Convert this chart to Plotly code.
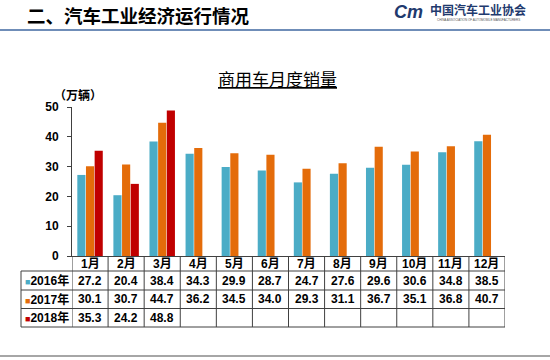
import plotly.graph_objects as go

# ---- data ----
months = ["1月", "2月", "3月", "4月", "5月", "6月", "7月", "8月", "9月", "10月", "11月", "12月"]
series_names = ["2016年", "2017年", "2018年"]
sales_2016 = [27.2, 20.4, 38.4, 34.3, 29.9, 28.7, 24.7, 27.6, 29.6, 30.6, 34.8, 38.5]
sales_2017 = [30.1, 30.7, 44.7, 36.2, 34.5, 34.0, 29.3, 31.1, 36.7, 35.1, 36.8, 40.7]
sales_2018 = [35.3, 24.2, 48.8, None, None, None, None, None, None, None, None, None]
y_ticks = [0, 10, 20, 30, 40, 50]

colors = ["#4BACC6", "#E46C0A", "#C00000"]
all_series = [sales_2016, sales_2017, sales_2018]

W, H = 550, 360
L, R, T, B = 72, 45, 107, 104
plot_h = H - T - B
plot_w = W - L - R

def py(pix):  # pixel y -> paper y
    return (H - B - pix) / plot_h

def px(pix):  # pixel x -> paper x
    return (pix - L) / plot_w

FONT = "Arial, Liberation Sans, Noto Sans CJK SC, sans-serif"
CJK = "Noto Sans CJK SC, sans-serif"

fig = go.Figure()
for name, vals, c in zip(series_names, all_series, colors):
    fig.add_trace(go.Bar(x=months, y=vals, name=name, marker=dict(color=c, line=dict(width=0)),
                         hoverinfo="skip"))

shapes = []
annotations = []
line_col = "#404040"

def ann(x, y, text, xref="paper", xanchor="center", **font):
    f = dict(family=FONT, size=12, color="#000")
    f.update(font)
    annotations.append(dict(x=x, y=y, xref=xref, yref="paper", text=text, showarrow=False,
                            xanchor=xanchor, yanchor="middle", font=f))

# table geometry (pixels)
row_edges = [256, 271, 290, 308.5, 327]
left_x = 21

for k in range(len(months) + 1):
    shapes.append(dict(type="line", xref="x", yref="paper", x0=k - 0.5, x1=k - 0.5,
                       y0=py(256), y1=py(327), line=dict(color=line_col, width=1)))
shapes.append(dict(type="line", xref="paper", yref="paper", x0=px(left_x), x1=px(left_x),
                   y0=py(271), y1=py(327), line=dict(color=line_col, width=1)))
for ry in row_edges[1:]:
    shapes.append(dict(type="line", xref="paper", yref="paper", x0=px(left_x), x1=1,
                       y0=py(ry), y1=py(ry), line=dict(color=line_col, width=1)))

for m in months:
    ann(m, py(263.5), m, xref="x", weight="bold")
for i, (name, vals, c) in enumerate(zip(series_names, all_series, colors)):
    ymid = (row_edges[i + 1] + row_edges[i + 2]) / 2
    ann(px(46.5), py(ymid), f"<span style='color:{c};font-size:9px'>■</span>{name}", weight="bold")
    for m, v in zip(months, vals):
        if v is not None:
            ann(m, py(ymid), f"{v:.1f}", xref="x", weight="bold")

# header title and logo
ann(px(25), py(15), "二、汽车工业经济运行情况", xanchor="left", family=CJK, size=18.5, weight="bold")
ann(px(408), py(12), "<i>Cm</i>", family=FONT, size=18, color="#1F3A6E", weight="bold")
ann(px(478), py(10), "中国汽车工业协会", family=CJK, size=12, color="#1F3A6E", weight="bold")
ann(px(478), py(20), "CHINA ASSOCIATION OF AUTOMOBILE MANUFACTURERS", size=3, color="#555")
shapes.append(dict(type="line", xref="paper", yref="paper", x0=px(0), x1=px(550),
                   y0=py(30), y1=py(30), line=dict(color="#6F8DB8", width=2)))
shapes.append(dict(type="line", xref="paper", yref="paper", x0=px(0), x1=px(550),
                   y0=py(356), y1=py(356), line=dict(color="#888888", width=1.5)))

# chart title and unit
ann(px(277), py(78), "<u>商用车月度销量</u>", family=CJK, size=17)
ann(px(78), py(95), "（万辆）", family=CJK, size=12, weight="bold")

fig.update_layout(
    width=W, height=H,
    margin=dict(l=L, r=R, t=T, b=B, autoexpand=False),
    paper_bgcolor="white", plot_bgcolor="white",
    barmode="group", bargap=0.28, bargroupgap=0.06,
    showlegend=False,
    shapes=shapes, annotations=annotations,
    xaxis=dict(showticklabels=False, ticks="", showline=True, linecolor=line_col, linewidth=1,
               showgrid=False, zeroline=False, range=[-0.5, len(months) - 0.5], fixedrange=True,
               automargin=False),
    yaxis=dict(range=[0, 50], tickvals=y_ticks, showgrid=False, zeroline=False,
               showline=True, linecolor=line_col, linewidth=1, ticks="outside", ticklen=4,
               tickcolor=line_col, ticklabelstandoff=6, automargin=False, fixedrange=True,
               tickfont=dict(family=FONT, size=12, color="#000", weight="bold")),
)

fig.write_html("out.html", config={"displayModeBar": False},
               post_script="document.body.style.margin='0px';")
